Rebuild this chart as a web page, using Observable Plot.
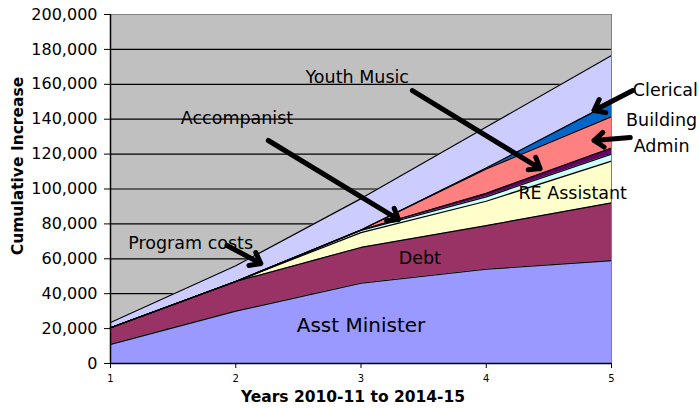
<!DOCTYPE html>
<html><head><meta charset="utf-8">
<script src="https://cdn.jsdelivr.net/npm/d3@7"></script>
<script src="https://cdn.jsdelivr.net/npm/@observablehq/plot@0.6"></script>
<style>body{margin:0;background:#fff;}</style>
</head><body><div id="chart"></div>
<script>
const years = [1, 2, 3, 4, 5];
const series = ["Asst Minister", "Debt", "RE Assistant", "Accompanist", "Youth Music", "Building Admin", "Clerical", "Program costs"];
const asstMinister  = [11000, 30000, 46000, 54000, 59000];
const debt          = [9500, 17000, 20500, 25000, 33000];
const reAssistant   = [0, 0, 8500, 14000, 24000];
const accompanist   = [0, 0, 1200, 2500, 4000];
const youthMusic    = [0, 0, 300, 2000, 3500];
const buildingAdmin = [0, 0, 0, 14000, 18000];
const clerical      = [0, 0, 0, 500, 8000];
const programCosts  = [3000, 9000, 18000, 23500, 27000];
const colors = ["#9999FF", "#993366", "#FFFFCC", "#CCFFFF", "#660066", "#FF8080", "#0066CC", "#CCCCFF"];
const yTicks = [0, 20000, 40000, 60000, 80000, 100000, 120000, 140000, 160000, 180000, 200000];

// annotation labels (data coordinates)
const labelText = ["Asst Minister", "Debt", "RE Assistant", "Program costs", "Accompanist", "Youth Music", "Clerical", "Building", "Admin"];
const labelX    = [3.0, 3.47, 4.69, 1.64, 2.01, 2.97, 5.43, 5.40, 5.40];
const labelY    = [21800, 60200, 97400, 68800, 140400, 163900, 156700, 139300, 124400];
const labelSize = [20, 17.5, 17.5, 17.5, 17.5, 17.5, 17.5, 17.5, 17.5];
// arrows (data coordinates)
const arrowX1 = [1.93, 2.26, 3.41, 5.17, 5.15];
const arrowY1 = [67600, 127800, 156400, 156400, 129500];
const arrowX2 = [2.20, 3.30, 4.43, 4.86, 4.86];
const arrowY2 = [57300, 82500, 111700, 145000, 127800];

const values = [asstMinister, debt, reAssistant, accompanist, youthMusic, buildingAdmin, clerical, programCosts];
const data = [];
series.forEach((s, i) => years.forEach((yr, j) => data.push({series: s, year: yr, value: values[i][j]})));
const labels = labelText.map((t, i) => ({t, x: labelX[i], y: labelY[i], s: labelSize[i]}));
const arrows = arrowX1.map((x, i) => ({x1: x, y1: arrowY1[i], x2: arrowX2[i], y2: arrowY2[i]}));

const chart = Plot.plot({
  width: 699, height: 408,
  marginLeft: 110, marginRight: 88, marginTop: 14, marginBottom: 45,
  style: {fontFamily: "DejaVu Sans", background: "white", color: "black", overflow: "visible"},
  x: {domain: [1, 5]},
  y: {domain: [0, 200000]},
  color: {domain: series, range: colors},
  marks: [
    Plot.frame({fill: "#C0C0C0"}),
    Plot.ruleY(yTicks, {stroke: "black", strokeWidth: 1.2}),
    Plot.areaY(data, {x: "year", y: "value", z: "series", fill: "series", order: series}),
    Plot.lineY(data, Plot.stackY2({x: "year", y: "value", z: "series", order: series, stroke: "black", strokeWidth: 1.2})),
    Plot.frame({stroke: "#808080"}),
    Plot.ruleX([1], {stroke: "black", strokeWidth: 1.5}),
    Plot.ruleY([0], {stroke: "black", strokeWidth: 1.5}),
    Plot.axisY({ticks: yTicks, tickFormat: d3.format(","), tickSize: 6, tickPadding: 7, fontSize: 16, label: null}),
    Plot.axisX({ticks: years, tickFormat: d => String(d), tickSize: 5, tickPadding: 6, fontSize: 10, label: null}),
    Plot.arrow(arrows, {x1: "x1", y1: "y1", x2: "x2", y2: "y2", stroke: "black", strokeWidth: 5, headLength: 3.6, headAngle: 75, clip: false}),
    Plot.text(labels, {x: "x", y: "y", text: "t", fontSize: d => d.s, fill: "black", clip: false}),
    Plot.text(["Cumulative Increase"], {frameAnchor: "left", dx: -92, dy: -23, rotate: -90, textAnchor: "middle", lineAnchor: "middle", fontSize: 15.5, fontWeight: "bold", fill: "black"}),
    Plot.text(["Years 2010-11 to 2014-15"], {frameAnchor: "bottom", dx: -8, dy: 34, textAnchor: "middle", lineAnchor: "middle", fontSize: 15.5, fontWeight: "bold", fill: "black"})
  ]
});
document.getElementById("chart").appendChild(chart);
</script>
</body></html>
